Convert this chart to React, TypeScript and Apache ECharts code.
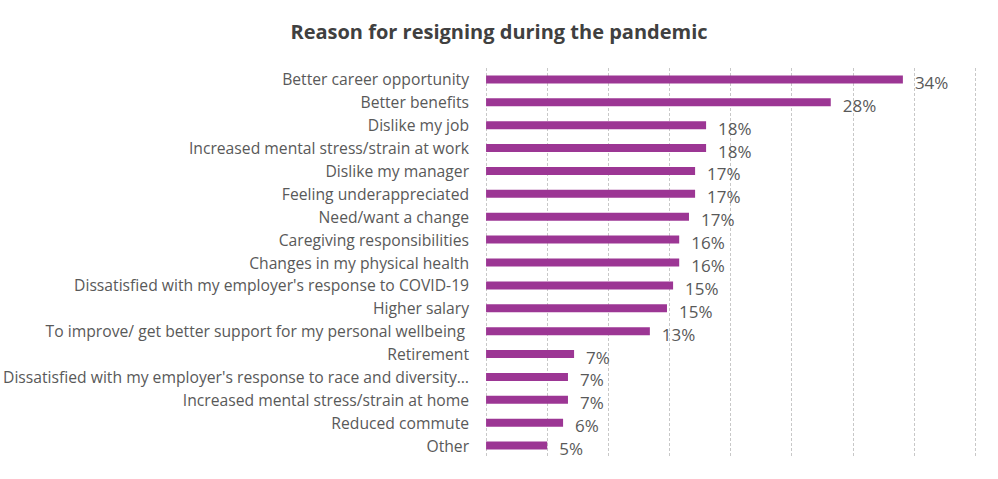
import React, { useEffect, useRef } from "react";
import * as echarts from "echarts";

const categories: string[] = [
  "Better career opportunity",
  "Better benefits",
  "Dislike my job",
  "Increased mental stress/strain at work",
  "Dislike my manager",
  "Feeling underappreciated",
  "Need/want a change",
  "Caregiving responsibilities",
  "Changes in my physical health",
  "Dissatisfied with my employer's response to COVID-19",
  "Higher salary",
  "To improve/ get better support for my personal wellbeing ",
  "Retirement",
  "Dissatisfied with my employer's response to race and diversity…",
  "Increased mental stress/strain at home",
  "Reduced commute",
  "Other",
];

const values: number[] = [
  34.1, 28.2, 18.0, 18.0, 17.1, 17.1, 16.6, 15.8, 15.8, 15.3, 14.8, 13.4, 7.2,
  6.7, 6.7, 6.3, 5.0,
];

const titleText = "Reason for resigning during the pandemic";
const axisMax = 40;
const axisInterval = 5;

export default function App() {
  const ref = useRef<HTMLDivElement>(null);
  useEffect(() => {
    if (!ref.current) return;
    const chart = echarts.init(ref.current, null, { renderer: "svg" });
    chart.setOption({
      animation: false,
      backgroundColor: "#ffffff",
      title: {
        text: titleText,
        left: "center",
        top: 16,
        textStyle: {
          fontFamily: "Open Sans",
          fontWeight: "bold",
          fontSize: 20,
          color: "#404040",
        },
      },
      grid: { left: 485, right: 23, top: 68, bottom: 22, containLabel: false },
      xAxis: {
        type: "value",
        min: 0,
        max: axisMax,
        interval: axisInterval,
        axisLabel: { show: false },
        axisLine: { show: false },
        axisTick: { show: false },
        splitLine: {
          show: true,
          lineStyle: { color: "#c8c8c8", type: [3, 2], width: 1 },
        },
      },
      yAxis: {
        type: "category",
        inverse: true,
        data: categories,
        axisLine: { show: false },
        axisTick: { show: false },
        axisLabel: {
          margin: 17,
          fontFamily: "Open Sans",
          fontSize: 15.7,
          color: "#595959",
        },
      },
      series: [
        {
          type: "bar",
          data: values,
          barWidth: 8,
          itemStyle: { color: "#9c3694" },
          label: {
            show: true,
            position: "right",
            distance: 12,
            offset: [0, 3],
            formatter: (p: any) => Math.round(p.value) + "%",
            fontFamily: "Open Sans",
            fontSize: 17,
            color: "#595959",
          },
        },
      ],
    });
    return () => chart.dispose();
  }, []);
  return (
    <div
      ref={ref}
      style={{ position: "fixed", left: 0, top: 0, width: 998, height: 479 }}
    />
  );
}
